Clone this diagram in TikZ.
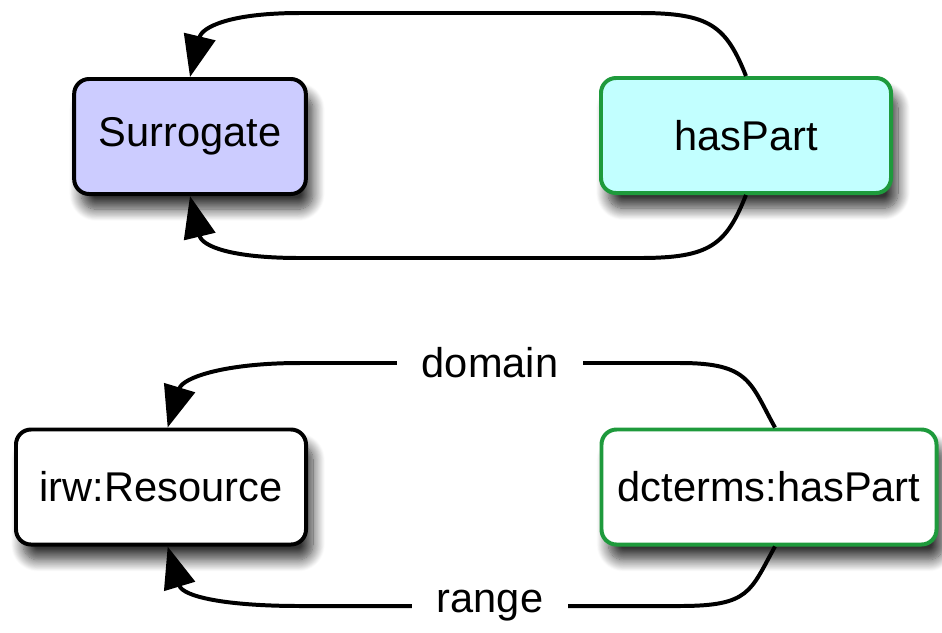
\documentclass[tikz,border=0pt]{standalone}
\usepackage{fontspec}
\setmainfont{Liberation Sans}
\usetikzlibrary{arrows.meta,shadows.blur}
\definecolor{lilac}{HTML}{CCCCFF}
\definecolor{aqua}{HTML}{C2FFFF}
\definecolor{leaf}{HTML}{1E9A3C}
\tikzset{
  cls/.style={draw=black,line width=3.4pt,rounded corners=0.45cm,minimum height=3.45cm,
    font=\fontsize{35.5}{40}\selectfont,
    blur shadow={shadow xshift=6pt,shadow yshift=-13pt,shadow blur steps=14,shadow opacity=80,shadow blur radius=10pt}},
  prop/.style={cls,draw=leaf},
  link/.style={line width=3.4pt,-{Triangle[length=1.25cm,width=0.95cm]}},
  lbl/.style={fill=white,font=\fontsize{35.5}{40}\selectfont,inner xsep=0.75cm}
}
\begin{document}
\begin{tikzpicture}[x=0.03cm,y=-0.03cm]
  \useasboundingbox (0,0) rectangle (942,632);
  \node[cls,fill=lilac,minimum width=6.95cm] (sur) at (190,136.5) {Surrogate};
  \node[prop,fill=aqua,minimum width=8.7cm] (hp) at (746,135.5) {hasPart};
  \node[cls,fill=white,minimum width=8.7cm] (irw) at (161,487) {irw:Resource};
  \node[prop,fill=white,minimum width=10.05cm] (dc) at (769,487) {dcterms:hasPart};
  \draw[link] (hp.north) .. controls +(-20,-50) and +(70,0) .. (640,13) -- (300,13)
    .. controls +(-70,0) and +(12,-50) .. (sur.north);
  \draw[link] (hp.south) .. controls +(-20,50) and +(70,0) .. (640,258) -- (300,258)
    .. controls +(-70,0) and +(12,50) .. (sur.south);
  \draw[link] ([xshift=0.18cm]dc.north) .. controls +(-25,-45) and +(70,0) .. (680,363)
    -- node[lbl] {domain} (300,363) .. controls +(-75,0) and +(15,-50) .. ([xshift=0.2cm]irw.north);
  \draw[link] ([xshift=0.18cm]dc.south) .. controls +(-25,45) and +(70,0) .. (680,606)
    -- node[lbl] {range} (300,606) .. controls +(-75,0) and +(15,50) .. ([xshift=0.2cm]irw.south);
\end{tikzpicture}
\end{document}
